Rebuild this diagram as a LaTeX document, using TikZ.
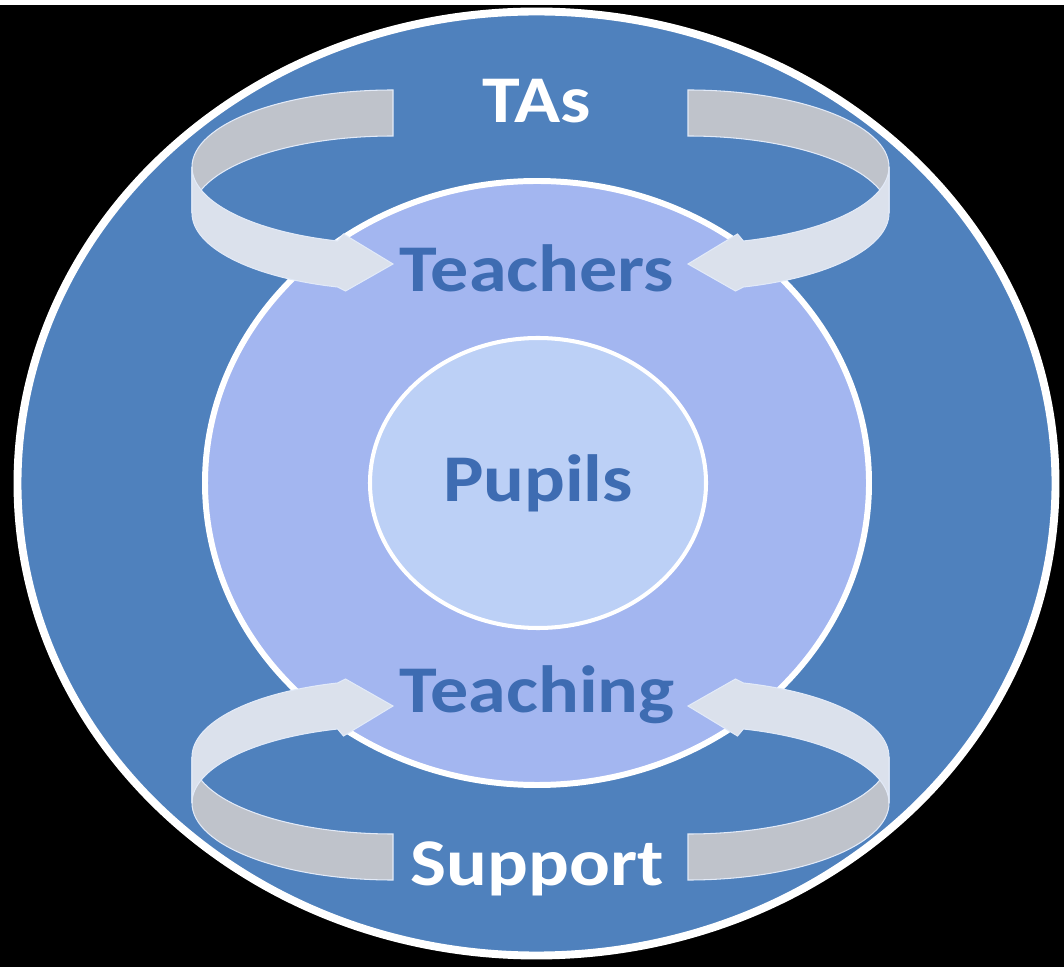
\documentclass[tikz,border=0pt]{standalone}
\usepackage{fontspec}
\usepackage{graphicx}
\setmainfont{Carlito}
\definecolor{outerblue}{HTML}{4F81BD}
\definecolor{midblue}{HTML}{A3B6F0}
\definecolor{innerblue}{HTML}{BCD0F6}
\definecolor{textblue}{HTML}{3E6CB2}
\definecolor{bandgray}{HTML}{BFC3CB}
\definecolor{bandlight}{HTML}{DBE1EC}
\definecolor{bandedge}{HTML}{E2EAF8}
\newcommand{\labelfont}{\bfseries\fontsize{38}{40}\selectfont}
\newcommand{\widetext}[1]{\scalebox{1.14}[1]{#1}}

\begin{document}
\begin{tikzpicture}[
        x=0.02cm, y=0.02cm,
        ring/.style={draw=white, fill=#1},
        back band/.style={fill=bandgray, draw=bandedge, line width=0.6pt},
        front band/.style={fill=bandlight, draw=bandedge, line width=0.6pt},
        white label/.style={text=white, font=\labelfont, anchor=base},
        blue label/.style={text=textblue, font=\labelfont, anchor=base}]

    % background
    \useasboundingbox (0,0) rectangle (1064,967);
    \fill[black] (0,0) rectangle (1064,967);
    \fill[white] (0,962) rectangle (1064,967);

    % circles
    \draw[ring=outerblue, line width=4.5pt] (536.5,483.5) ellipse [x radius=519, y radius=472];
    \draw[ring=midblue, line width=3.4pt] (537,484) ellipse [x radius=332, y radius=302];
    \draw[ring=innerblue, line width=2.3pt] (538,484) ellipse [x radius=168, y radius=145];

    % ribbons
    \foreach \sx/\sy in {1/1, -1/1, 1/-1, -1/-1} {
      \begin{scope}[shift={(540.5,482)}, xscale=\sx, yscale=\sy]
        \draw[back band] (-147.5,395) arc [start angle=90, end angle=180, x radius=201, y radius=77]
          -- (-348.5,272) arc [start angle=180, end angle=90, x radius=201, y radius=77] -- cycle;
        \draw[front band] (-348.5,318) arc [start angle=180, end angle=254, x radius=201, y radius=77]
          -- (-197,251) -- (-147.5,221) -- (-195,194) -- (-202.9,198)
          arc [start angle=254, end angle=180, x radius=201, y radius=77] -- cycle;
      \end{scope}
    }

    % labels
    \node[white label] (tas) at (537,844) {\widetext{TAs}};
    \node[blue label] (teachers) at (537,675) {\widetext{Teachers}};
    \node[blue label] (pupils) at (538,465) {\widetext{Pupils}};
    \node[blue label] (teaching) at (537,255) {\widetext{Teaching}};
    \node[white label] (support) at (537,82) {\widetext{Support}};
\end{tikzpicture}
\end{document}
